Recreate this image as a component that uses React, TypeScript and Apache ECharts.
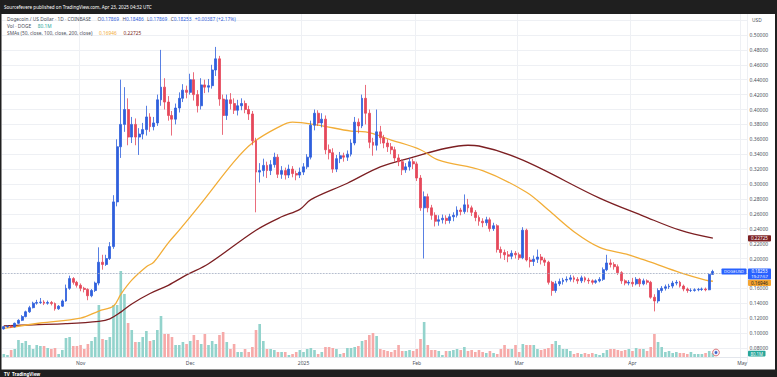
import React, { useEffect, useRef } from "react";
import * as echarts from "echarts";

// ---------- data ----------
const START_UTC = Date.UTC(2024, 9, 11); // Oct 11, 2024
const AXIS_DAYS = 204; // Oct 11 2024 .. May 2 2025
const MONTH_NAMES = ["2025", "Feb", "Mar", "Apr", "May", "Jun", "Jul", "Aug", "Sep", "Oct", "Nov", "Dec"];

const dates: string[] = [];
for (let i = 0; i < AXIS_DAYS; i++) {
  const d = new Date(START_UTC + i * 86400000);
  dates.push(
    d.getUTCFullYear() + "-" + String(d.getUTCMonth() + 1).padStart(2, "0") + "-" + String(d.getUTCDate()).padStart(2, "0")
  );
}

// [open, close, low, high] per day, Oct 11 2024 .. Apr 23 2025
const ohlc: number[][] = [
  [0.1055, 0.1085, 0.1045, 0.1095], [0.1085, 0.109, 0.107, 0.1105], [0.109, 0.108, 0.1068, 0.1102], [0.108, 0.113, 0.1075, 0.114],
  [0.113, 0.117, 0.112, 0.1185], [0.117, 0.122, 0.116, 0.124], [0.122, 0.1285, 0.121, 0.13], [0.1285, 0.134, 0.127, 0.1365],
  [0.134, 0.14, 0.133, 0.142], [0.14, 0.141, 0.138, 0.1445], [0.141, 0.1415, 0.139, 0.147], [0.1415, 0.14, 0.1375, 0.144],
  [0.14, 0.141, 0.138, 0.1435], [0.141, 0.1395, 0.137, 0.143], [0.1395, 0.1325, 0.13, 0.141], [0.1325, 0.136, 0.131, 0.1375],
  [0.136, 0.143, 0.135, 0.145], [0.143, 0.16, 0.142, 0.165], [0.16, 0.173, 0.158, 0.177], [0.173, 0.168, 0.165, 0.175],
  [0.168, 0.164, 0.161, 0.17], [0.164, 0.16, 0.156, 0.1665], [0.16, 0.1585, 0.1545, 0.162], [0.1585, 0.15, 0.144, 0.16],
  [0.15, 0.157, 0.148, 0.159], [0.157, 0.167, 0.155, 0.169], [0.167, 0.195, 0.164, 0.215], [0.195, 0.192, 0.185, 0.205],
  [0.192, 0.2, 0.19, 0.205], [0.2, 0.216, 0.198, 0.222], [0.216, 0.276, 0.213, 0.285], [0.276, 0.35, 0.27, 0.36],
  [0.35, 0.38, 0.335, 0.44], [0.38, 0.4, 0.37, 0.43], [0.4, 0.363, 0.352, 0.415], [0.363, 0.38, 0.355, 0.39],
  [0.38, 0.363, 0.352, 0.388], [0.363, 0.367, 0.339, 0.375], [0.367, 0.373, 0.36, 0.382], [0.373, 0.39, 0.365, 0.405],
  [0.39, 0.377, 0.37, 0.395], [0.377, 0.382, 0.372, 0.39], [0.382, 0.413, 0.378, 0.42], [0.413, 0.43, 0.405, 0.48],
  [0.43, 0.41, 0.4, 0.442], [0.41, 0.392, 0.385, 0.418], [0.392, 0.387, 0.365, 0.398], [0.387, 0.402, 0.38, 0.408],
  [0.402, 0.415, 0.396, 0.423], [0.415, 0.426, 0.41, 0.434], [0.426, 0.423, 0.415, 0.432], [0.423, 0.44, 0.42, 0.448],
  [0.44, 0.42, 0.412, 0.45], [0.42, 0.405, 0.396, 0.426], [0.405, 0.433, 0.4, 0.442], [0.433, 0.43, 0.422, 0.44],
  [0.43, 0.432, 0.423, 0.441], [0.432, 0.453, 0.428, 0.46], [0.453, 0.468, 0.445, 0.484], [0.468, 0.414, 0.405, 0.472],
  [0.414, 0.392, 0.366, 0.42], [0.392, 0.413, 0.386, 0.42], [0.413, 0.408, 0.4, 0.422], [0.408, 0.399, 0.394, 0.415],
  [0.399, 0.405, 0.392, 0.413], [0.405, 0.408, 0.399, 0.415], [0.408, 0.4, 0.395, 0.412], [0.4, 0.394, 0.386, 0.405],
  [0.394, 0.358, 0.352, 0.398], [0.358, 0.316, 0.262, 0.362], [0.316, 0.318, 0.302, 0.328], [0.318, 0.325, 0.31, 0.334],
  [0.325, 0.318, 0.308, 0.33], [0.318, 0.326, 0.312, 0.332], [0.326, 0.336, 0.322, 0.342], [0.336, 0.313, 0.308, 0.34],
  [0.313, 0.318, 0.307, 0.324], [0.318, 0.312, 0.306, 0.322], [0.312, 0.32, 0.308, 0.326], [0.32, 0.314, 0.309, 0.324],
  [0.314, 0.312, 0.305, 0.318], [0.312, 0.316, 0.308, 0.322], [0.316, 0.323, 0.312, 0.328], [0.323, 0.336, 0.32, 0.34],
  [0.336, 0.379, 0.333, 0.385], [0.379, 0.395, 0.372, 0.4], [0.395, 0.382, 0.378, 0.399], [0.382, 0.387, 0.376, 0.395],
  [0.387, 0.346, 0.34, 0.392], [0.346, 0.342, 0.333, 0.353], [0.342, 0.32, 0.315, 0.348], [0.32, 0.334, 0.316, 0.339],
  [0.334, 0.338, 0.328, 0.343], [0.338, 0.336, 0.33, 0.342], [0.336, 0.34, 0.331, 0.345], [0.34, 0.355, 0.337, 0.36],
  [0.355, 0.383, 0.352, 0.39], [0.383, 0.378, 0.368, 0.388], [0.378, 0.415, 0.375, 0.42], [0.415, 0.395, 0.38, 0.433],
  [0.395, 0.356, 0.348, 0.4], [0.356, 0.352, 0.338, 0.362], [0.352, 0.37, 0.345, 0.4], [0.37, 0.362, 0.354, 0.378],
  [0.362, 0.355, 0.348, 0.366], [0.355, 0.35, 0.343, 0.36], [0.35, 0.346, 0.34, 0.355], [0.346, 0.335, 0.33, 0.35],
  [0.335, 0.33, 0.324, 0.34], [0.33, 0.319, 0.312, 0.333], [0.319, 0.323, 0.315, 0.328], [0.323, 0.33, 0.318, 0.335],
  [0.33, 0.327, 0.32, 0.334], [0.327, 0.308, 0.304, 0.33], [0.308, 0.268, 0.264, 0.312], [0.268, 0.283, 0.2, 0.29],
  [0.283, 0.268, 0.262, 0.287], [0.268, 0.258, 0.252, 0.272], [0.258, 0.25, 0.243, 0.262], [0.25, 0.252, 0.244, 0.258],
  [0.252, 0.254, 0.247, 0.259], [0.254, 0.251, 0.246, 0.258], [0.251, 0.256, 0.247, 0.26], [0.256, 0.258, 0.25, 0.262],
  [0.258, 0.265, 0.255, 0.27], [0.265, 0.263, 0.258, 0.268], [0.263, 0.272, 0.26, 0.286], [0.272, 0.268, 0.262, 0.28],
  [0.268, 0.262, 0.257, 0.271], [0.262, 0.255, 0.25, 0.265], [0.255, 0.25, 0.244, 0.258], [0.25, 0.248, 0.242, 0.254],
  [0.248, 0.252, 0.244, 0.256], [0.252, 0.24, 0.236, 0.255], [0.24, 0.244, 0.237, 0.248], [0.244, 0.212, 0.208, 0.246],
  [0.212, 0.208, 0.2, 0.216], [0.208, 0.205, 0.198, 0.212], [0.205, 0.203, 0.195, 0.21], [0.203, 0.207, 0.199, 0.211],
  [0.207, 0.205, 0.2, 0.21], [0.205, 0.201, 0.198, 0.208], [0.201, 0.238, 0.199, 0.242], [0.238, 0.198, 0.196, 0.24],
  [0.198, 0.196, 0.188, 0.202], [0.196, 0.199, 0.19, 0.204], [0.199, 0.202, 0.194, 0.212], [0.202, 0.198, 0.192, 0.206],
  [0.198, 0.195, 0.19, 0.201], [0.195, 0.168, 0.165, 0.197], [0.168, 0.157, 0.15, 0.17], [0.157, 0.166, 0.154, 0.17],
  [0.166, 0.169, 0.163, 0.173], [0.169, 0.171, 0.165, 0.174], [0.171, 0.172, 0.168, 0.176], [0.172, 0.174, 0.169, 0.178],
  [0.174, 0.172, 0.168, 0.177], [0.172, 0.17, 0.166, 0.175], [0.17, 0.174, 0.167, 0.177], [0.174, 0.171, 0.168, 0.176],
  [0.171, 0.17, 0.166, 0.174], [0.17, 0.168, 0.165, 0.172], [0.168, 0.17, 0.166, 0.172], [0.17, 0.172, 0.168, 0.175],
  [0.172, 0.185, 0.17, 0.188], [0.185, 0.194, 0.183, 0.205], [0.194, 0.192, 0.188, 0.199], [0.192, 0.189, 0.185, 0.195],
  [0.189, 0.181, 0.178, 0.192], [0.181, 0.17, 0.166, 0.183], [0.17, 0.167, 0.164, 0.172], [0.167, 0.168, 0.164, 0.171],
  [0.168, 0.166, 0.162, 0.174], [0.166, 0.172, 0.164, 0.175], [0.172, 0.166, 0.162, 0.174], [0.166, 0.17, 0.164, 0.173],
  [0.17, 0.168, 0.165, 0.172], [0.168, 0.148, 0.146, 0.17], [0.148, 0.143, 0.129, 0.152], [0.143, 0.157, 0.14, 0.16],
  [0.157, 0.16, 0.154, 0.163], [0.16, 0.162, 0.157, 0.165], [0.162, 0.163, 0.159, 0.166], [0.163, 0.167, 0.16, 0.17],
  [0.167, 0.168, 0.164, 0.171], [0.168, 0.163, 0.161, 0.17], [0.163, 0.159, 0.156, 0.165], [0.159, 0.157, 0.154, 0.161],
  [0.157, 0.1572, 0.155, 0.16], [0.1572, 0.158, 0.1555, 0.16], [0.158, 0.1585, 0.156, 0.1605], [0.1585, 0.159, 0.1565, 0.161],
  [0.159, 0.158, 0.156, 0.161], [0.158, 0.17866, 0.1575, 0.18], [0.17869, 0.18253, 0.17869, 0.18486],
];

// daily volume, millions of DOGE
const volumes: number[] = [
  60, 40, 140, 160, 340, 280, 320, 240, 160, 240,
  220, 220, 180, 160, 180, 60, 140, 380, 400, 220,
  220, 240, 160, 260, 320, 400, 1040, 360, 340, 400,
  1040, 1040, 1720, 1260, 680, 540, 300, 300, 400, 520,
  320, 340, 540, 820, 460, 460, 400, 240, 240, 300,
  260, 320, 440, 340, 260, 460, 240, 320, 260, 440,
  500, 300, 160, 260, 100, 100, 160, 100, 200, 540,
  660, 320, 160, 160, 140, 100, 100, 100, 40, 60,
  100, 140, 100, 160, 180, 140, 60, 100, 200, 200,
  180, 160, 60, 80, 180, 180, 200, 220, 320, 340,
  440, 480, 420, 160, 140, 120, 100, 140, 240, 120,
  120, 140, 120, 160, 360, 700, 240, 140, 140, 120,
  40, 120, 120, 140, 160, 140, 200, 120, 140, 100,
  140, 100, 80, 120, 80, 60, 160, 240, 160, 160,
  240, 100, 260, 240, 240, 240, 160, 140, 160, 180,
  260, 320, 240, 160, 160, 120, 60, 80, 60, 80,
  60, 80, 60, 40, 80, 140, 160, 160, 140, 120,
  140, 160, 120, 180, 160, 160, 120, 200, 460, 300,
  200, 100, 120, 80, 100, 80, 80, 60, 100, 60,
  60, 60, 80, 120, 80.1,
];

// moving averages: [day index, value]
const sma50Points: number[][] = [
  [0, 0.1062], [10, 0.1134], [21, 0.12], [26, 0.1295], [30, 0.1362], [32, 0.152], [35, 0.171], [39, 0.189],
  [41, 0.195], [45, 0.221], [48, 0.238], [54, 0.274], [63, 0.33], [68, 0.355], [75, 0.376], [79, 0.383],
  [86, 0.379], [95, 0.371], [99, 0.37], [106, 0.359], [114, 0.346], [119, 0.332], [131, 0.318], [143, 0.289],
  [149, 0.265], [156, 0.236], [163, 0.215], [171, 0.205], [177, 0.195], [185, 0.181], [192, 0.171], [194, 0.16946],
];
const sma200Points: number[][] = [
  [0, 0.1095], [8, 0.111], [17, 0.1125], [26, 0.1157], [29, 0.119], [32, 0.128], [35, 0.139], [40, 0.153],
  [45, 0.164], [50, 0.178], [56, 0.193], [69, 0.238], [76, 0.256], [81, 0.266], [84, 0.279], [94, 0.301],
  [103, 0.323], [112, 0.336], [121, 0.348], [127, 0.352], [130, 0.351], [142, 0.332], [163, 0.281], [175, 0.257],
  [185, 0.238], [194, 0.22725],
];

const LAST_CLOSE = 0.18253;
const SMA50_LAST = 0.16946;
const SMA200_LAST = 0.22725;
const LAST_VOL = 80.1;
// axis level hidden behind the last-price tag
const HIDDEN_LEVELS = [0.18];

// ---------- styles ----------
const UP = "#2f5fdc";
const DOWN = "#e5485a";
const VOL_UP = "#93d3cc";
const VOL_DOWN = "#f6aaa9";
const C50 = "#f2ad37";
const C200 = "#7c1f22";
const FONT = "Noto Sans";

function isMonthStart(i: number): boolean {
  return dates[i].slice(8, 10) === "01";
}

export default function App() {
  const ref = useRef<HTMLDivElement>(null);

  useEffect(() => {
    if (!ref.current) return;
    const chart = echarts.init(ref.current, undefined, { renderer: "svg" });

    const GRID_LEFT = 2;
    const GRID_W = 745.6;

    const option: any = {
      animation: false,
      backgroundColor: "#ffffff",
      textStyle: { fontFamily: FONT },
      grid: [
        { left: GRID_LEFT, width: GRID_W, top: 5.2, height: 357.6 },
        { left: GRID_LEFT, width: GRID_W, top: 257, height: 100 },
      ],
      xAxis: [
        {
          type: "category",
          gridIndex: 0,
          data: dates,
          boundaryGap: true,
          axisLine: { show: false },
          axisTick: { show: false },
          axisLabel: { show: false },
          splitLine: {
            show: true,
            interval: (i: number) => isMonthStart(i),
            lineStyle: { color: "#eef0f4", width: 1 },
          },
        },
        {
          type: "category",
          gridIndex: 1,
          data: dates,
          boundaryGap: true,
          axisLine: { show: true, lineStyle: { color: "#e3e6ec", width: 1 } },
          axisTick: { show: false },
          splitLine: { show: false },
          axisLabel: {
            show: true,
            interval: (i: number) => isMonthStart(i),
            formatter: (v: string) => MONTH_NAMES[Number(v.slice(5, 7)) - 1],
            fontSize: 5,
            color: "#4b4f59",
            margin: 3,
            fontFamily: FONT,
          },
        },
      ],
      yAxis: [
        {
          type: "value",
          gridIndex: 0,
          position: "right",
          min: 0.06,
          max: 0.54,
          interval: 0.02,
          axisLine: { show: false },
          axisTick: { show: false },
          axisLabel: {
            show: true,
            margin: 2,
            fontSize: 5,
            color: "#4b4f59",
            fontFamily: FONT,
            formatter: (v: number) =>
              v > 0.505 || v < 0.075 || HIDDEN_LEVELS.some((h) => Math.abs(h - v) < 1e-6) ? "" : v.toFixed(5),
          },
          splitLine: {
            show: true,
            showMinLine: false,
            showMaxLine: false,
            lineStyle: { color: "#eef0f4", width: 1 },
          },
        },
        {
          type: "value",
          gridIndex: 1,
          min: 0,
          max: 2000,
          show: false,
          splitLine: { show: false },
        },
      ],
      series: [
        {
          type: "bar",
          name: "Vol",
          xAxisIndex: 1,
          yAxisIndex: 1,
          barWidth: "72%",
          z: 1,
          data: volumes.map((v, i) => ({
            value: v,
            itemStyle: { color: ohlc[i][1] >= ohlc[i][0] ? VOL_UP : VOL_DOWN },
          })),
        },
        {
          type: "line",
          name: "SMA200",
          xAxisIndex: 0,
          yAxisIndex: 0,
          showSymbol: false,
          smooth: 0.35,
          z: 3,
          lineStyle: { color: C200, width: 1.3 },
          data: sma200Points.map(([i, v]) => [dates[i], v]),
        },
        {
          type: "line",
          name: "SMA50",
          xAxisIndex: 0,
          yAxisIndex: 0,
          showSymbol: false,
          smooth: 0.35,
          z: 3,
          lineStyle: { color: C50, width: 1.3 },
          data: sma50Points.map(([i, v]) => [dates[i], v]),
        },
        {
          type: "candlestick",
          name: "DOGEUSD",
          xAxisIndex: 0,
          yAxisIndex: 0,
          barWidth: "66%",
          z: 4,
          itemStyle: {
            color: UP,
            color0: DOWN,
            borderColor: UP,
            borderColor0: DOWN,
            borderWidth: 0.8,
          },
          data: ohlc.map(([o, c, l, h]) => [o, c, l, h]),
          markLine: {
            silent: true,
            symbol: ["none", "none"],
            label: { show: false },
            lineStyle: { color: "#a7b1c4", type: [1.5, 1.5], width: 0.8 },
            data: [{ yAxis: LAST_CLOSE }],
          },
        },
      ],
    };

    chart.setOption(option);

    const yPx = (v: number) => chart.convertToPixel({ yAxisIndex: 0 }, v) as number;
    const yVol = (v: number) => chart.convertToPixel({ yAxisIndex: 1 }, v) as number;

    const yLast = yPx(LAST_CLOSE);
    const y200 = yPx(SMA200_LAST);
    const yVolLast = yVol(LAST_VOL);
    const blueTop = yLast - 3;
    const blueBottom = yLast + 8;
    const orangeCenter = Math.max(yPx(SMA50_LAST), blueBottom + 3.2);

    const tagX = 748;
    const tagW = 23;
    const hdrColor = "#4a4e5a";
    const valBlue = "#2f5fdc";

    const graphics: any[] = [
      // dark frame
      { type: "rect", z: 200, shape: { x: 0, y: 0, width: 777, height: 14 }, style: { fill: "#1f1f1f" } },
      { type: "rect", z: 200, shape: { x: 0, y: 369.5, width: 777, height: 8 }, style: { fill: "#1f1f1f" } },
      { type: "rect", z: 200, shape: { x: 0, y: 0, width: 1.5, height: 377 }, style: { fill: "#1f1f1f" } },
      { type: "rect", z: 200, shape: { x: 775, y: 0, width: 2, height: 377 }, style: { fill: "#1f1f1f" } },
      {
        type: "text", z: 201, x: 4, y: 7,
        style: { text: "Sourcefevere published on TradingView.com, Apr 23, 2025 04:32 UTC", fill: "#ffffff", fontSize: 4.6, fontFamily: FONT, verticalAlign: "middle" },
      },
      {
        type: "text", z: 201, x: 4, y: 373.5,
        style: { text: "TV  TradingView", fill: "#ffffff", fontSize: 4.6, fontWeight: "bold", fontFamily: FONT, verticalAlign: "middle" },
      },
      // header legend
      {
        type: "text", z: 150, x: 7, y: 19,
        style: {
          text: "{t|Dogecoin / US Dollar · 1D · COINBASE}  {t|O}{v|0.17869} {t|H}{v|0.18486} {t|L}{v|0.17869} {t|C}{v|0.18253} {v|+0.00387 (+2.17%)}",
          verticalAlign: "middle",
          rich: {
            t: { fill: hdrColor, fontSize: 4.8, fontFamily: FONT },
            v: { fill: valBlue, fontSize: 4.8, fontFamily: FONT },
          },
        },
      },
      {
        type: "text", z: 150, x: 7, y: 26,
        style: {
          text: "{t|Vol · DOGE}  {g|80.1M}",
          verticalAlign: "middle",
          rich: {
            t: { fill: hdrColor, fontSize: 4.8, fontFamily: FONT },
            g: { fill: "#26a69a", fontSize: 4.8, fontFamily: FONT },
          },
        },
      },
      {
        type: "text", z: 150, x: 7, y: 33,
        style: {
          text: "{t|SMAs (50, close, 100, close, 200, close)}  {o|0.16946}  {r|0.22725}",
          verticalAlign: "middle",
          rich: {
            t: { fill: hdrColor, fontSize: 4.8, fontFamily: FONT },
            o: { fill: C50, fontSize: 4.8, fontFamily: FONT },
            r: { fill: C200, fontSize: 4.8, fontFamily: FONT },
          },
        },
      },
      {
        type: "text", z: 150, x: 752, y: 20,
        style: { text: "USD", fill: "#4b4f59", fontSize: 4.8, fontFamily: FONT, verticalAlign: "middle" },
      },
      // SMA200 tag
      { type: "rect", z: 160, shape: { x: tagX, y: y200 - 3, width: tagW, height: 6.2, r: 0.8 }, style: { fill: C200 } },
      {
        type: "text", z: 161, x: tagX + tagW / 2, y: y200 + 0.1,
        style: { text: SMA200_LAST.toFixed(5), fill: "#ffffff", fontSize: 4.6, fontFamily: FONT, align: "center", verticalAlign: "middle" },
      },
      // last price tag
      { type: "rect", z: 160, shape: { x: 721.5, y: blueTop, width: 25, height: 6, r: 0.8 }, style: { fill: "#2962ff" } },
      {
        type: "text", z: 161, x: 734, y: blueTop + 3,
        style: { text: "DOGEUSD", fill: "#ffffff", fontSize: 4.2, fontFamily: FONT, align: "center", verticalAlign: "middle" },
      },
      { type: "rect", z: 160, shape: { x: tagX, y: blueTop, width: tagW, height: blueBottom - blueTop, r: 0.8 }, style: { fill: "#2962ff" } },
      {
        type: "text", z: 161, x: tagX + tagW / 2, y: yLast - 0.2,
        style: { text: LAST_CLOSE.toFixed(5), fill: "#ffffff", fontSize: 4.4, lineHeight: 4.6, fontFamily: FONT, align: "center", verticalAlign: "middle" },
      },
      {
        type: "text", z: 161, x: tagX + tagW / 2, y: yLast + 5,
        style: { text: "19:27:57", fill: "#ffffff", fontSize: 4.2, lineHeight: 4.4, fontFamily: FONT, align: "center", verticalAlign: "middle" },
      },
      // SMA50 tag
      { type: "rect", z: 160, shape: { x: tagX, y: orangeCenter - 3, width: tagW, height: 6.2, r: 0.8 }, style: { fill: "#f5a532" } },
      {
        type: "text", z: 161, x: tagX + tagW / 2, y: orangeCenter + 0.1,
        style: { text: SMA50_LAST.toFixed(5), fill: "#1a1a1a", fontSize: 4.6, fontFamily: FONT, align: "center", verticalAlign: "middle" },
      },
      // volume tag
      { type: "rect", z: 160, shape: { x: tagX, y: yVolLast - 2.2, width: 17.5, height: 5.6, r: 0.8 }, style: { fill: "#26a69a" } },
      {
        type: "text", z: 161, x: tagX + 8.75, y: yVolLast + 0.6,
        style: { text: LAST_VOL.toFixed(1) + "M", fill: "#ffffff", fontSize: 4.4, fontFamily: FONT, align: "center", verticalAlign: "middle" },
      },
      // event marker
      {
        type: "circle", z: 150, shape: { cx: 716, cy: 352.5, r: 3.4 },
        style: { fill: "#e8eefc", stroke: "#e06a6a", lineWidth: 0.9 },
      },
      {
        type: "circle", z: 151, shape: { cx: 716, cy: 352.5, r: 1.4 },
        style: { fill: "#3f63c8" },
      },
    ];

    chart.setOption({ graphic: graphics });

    return () => chart.dispose();
  }, []);

  return (
    <div
      ref={ref}
      style={{ position: "fixed", left: 0, top: 0, width: 777, height: 377, background: "#ffffff" }}
    />
  );
}
